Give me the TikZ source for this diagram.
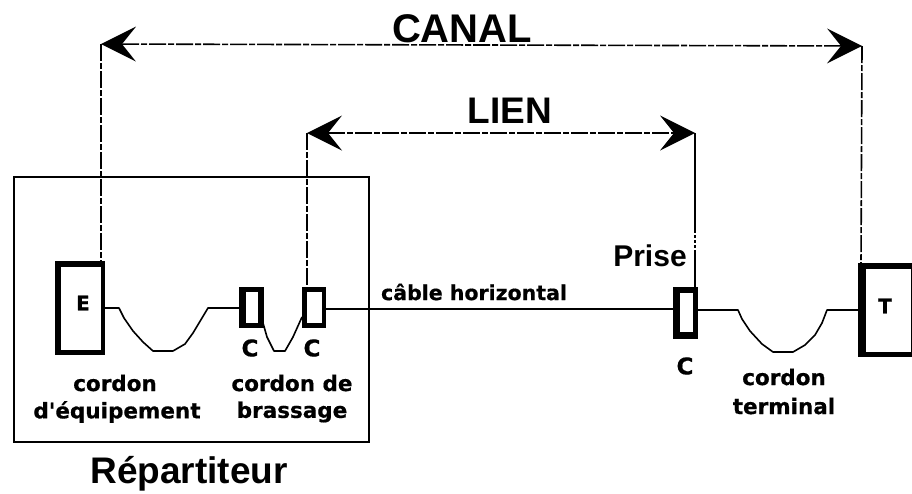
\documentclass[tikz,border=0pt]{standalone}
\usepackage{fontspec}
\setmainfont{Liberation Sans}
\newfontfamily\smallbold{DejaVu Sans Bold}[FakeBold=0.6]
\usetikzlibrary{arrows.meta}
\tikzset{
  x=1pt,y=-1pt,
  outer/.style={fill=black,inner sep=0pt,outer sep=0pt,anchor=north west},
  inner/.style={fill=white,inner sep=0pt,outer sep=0pt,anchor=north west},
  big/.style={font=\fontsize{#1}{#1}\selectfont\bfseries,inner sep=0pt},
  lab/.style={font=\fontsize{21.5}{21.5}\smallbold,inner sep=0pt},
  wire/.style={line width=1.6pt,line join=round},
  dim/.style={line width=1.6pt,dash pattern=on 17pt off 2pt on 6pt off 2pt},
  dimarrow/.style={dim,{Stealth[length=35pt,width=35pt,inset=14pt,line width=0pt]}-{Stealth[length=35pt,width=35pt,inset=14pt,line width=0pt]}},
}
\begin{document}
\begin{tikzpicture}
\useasboundingbox (0,0) rectangle (912,493);
% repartiteur frame
\node[draw,line width=1.7pt,minimum width=355pt,minimum height=265pt,anchor=north west,inner sep=0pt] (frame) at (13,176) {};
% devices
\node[outer,minimum width=50pt,minimum height=94pt] (E) at (55,261) {};
\node[inner,minimum width=40pt,minimum height=83pt] (Ei) at (61,267) {};
\node[outer,minimum width=25pt,minimum height=41pt] (C1) at (239,287) {};
\node[inner,minimum width=12pt,minimum height=31pt] (C1i) at (246,292) {};
\node[outer,minimum width=24pt,minimum height=41pt] (C2) at (302,287) {};
\node[inner,minimum width=15pt,minimum height=31pt] (C2i) at (307,292) {};
\node[outer,minimum width=25pt,minimum height=52pt] (P) at (673,287) {};
\node[inner,minimum width=13pt,minimum height=39pt] (Pi) at (680,293) {};
\node[outer,minimum width=54pt,minimum height=94pt] (T) at (858,263) {};
\node[inner,minimum width=45pt,minimum height=83pt] (Ti) at (866,269) {};
% free ends of the measuring lines
\coordinate (canalL) at (101,44);
\coordinate (canalR) at (862,46);
\coordinate (lienL) at (307,133);
\coordinate (lienR) at (695,133);
\coordinate (Etop) at (101,261);
\coordinate (Ttop) at (861,263);
\coordinate (C2top) at (307,287);
\coordinate (Ptop) at (695,287);
% cords
\draw[wire] (105,308) -- (119,308) -- (124,318) -- (133,331) -- (143,342) -- (153,351) -- (173,351) -- (185,344) -- (193,333) -- (202,318) -- (208,308) -- (239,308);
\draw[wire] (263,323) -- (267,337) -- (274,351) -- (285,351) -- (293,337) -- (302,317);
\draw[wire] (326,309) -- (673,309);
\draw[wire] (698,310) -- (738,310) -- (742,319) -- (750,331) -- (762,344) -- (773,352) -- (793,352) -- (805,345) -- (815,335) -- (822,323) -- (827,310) -- (858,310);
% measuring lines
\draw[dim] (canalL) -- (Etop);
\draw[dim] (canalR) -- (Ttop);
\draw[dim] (lienL) -- (C2top);
\draw[line width=1.6pt,dash pattern=on 100pt off 2pt on 3pt off 2pt on 3pt off 2pt on 3pt off 2pt] (lienR) -- (Ptop);
\draw[dimarrow] (canalL) -- (canalR);
\draw[dimarrow] (lienL) -- (lienR);
% labels
\node[big=40] (canal) at (462,29) {CANAL};
\node[big=37] (lien) at (510,111) {LIEN};
\node[big=30] (prise) at (650,256) {Prise};
\node[big=37] (rep) at (189,474) {Répartiteur};
\node[lab] (cable) at (474,292) {\fontsize{20.5}{20.5}\selectfont câble horizontal};
\node[lab] (e) at (83,303) {\fontsize{20}{20}\selectfont E};
\node[lab] (t) at (885,306) {\fontsize{20}{20}\selectfont T};
\node[lab] (c1) at (250,348) {\fontsize{23}{23}\selectfont C};
\node[lab] (c2) at (312,348) {\fontsize{23}{23}\selectfont C};
\node[lab] (c3) at (685,366) {\fontsize{23}{23}\selectfont C};
\node[lab] (l1) at (115,383) {cordon};
\node[lab] (l2) at (117,412) {d'équipement};
\node[lab] (l3) at (292,383) {cordon de};
\node[lab] (l4) at (292,412) {brassage};
\node[lab] (l5) at (784,377) {cordon};
\node[lab] (l6) at (784,406) {terminal};
\end{tikzpicture}
\end{document}
